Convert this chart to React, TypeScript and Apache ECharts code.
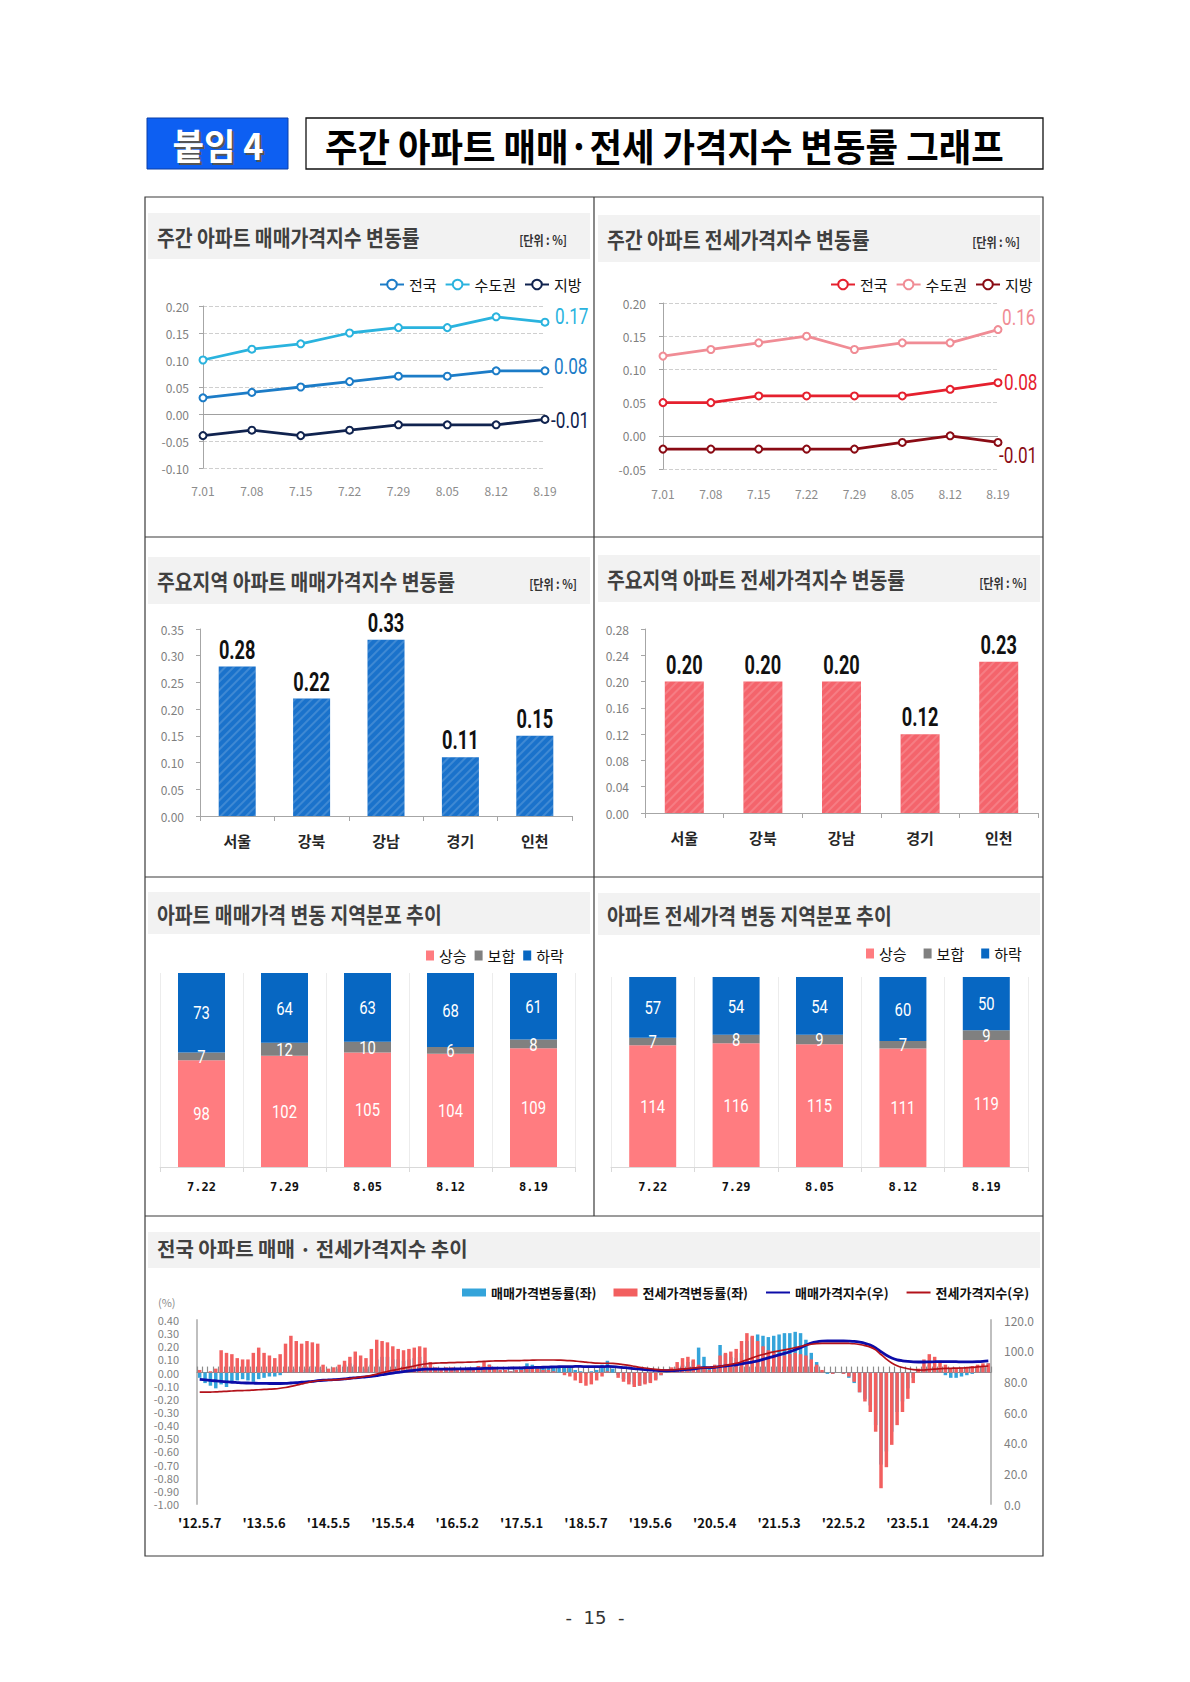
import React, { useEffect, useRef } from 'react';
import * as echarts from 'echarts';

const FONT = '"Noto Sans CJK KR", "Noto Sans", sans-serif';
const NUMF = 'Roboto, "Liberation Sans", sans-serif';

// ---- weekly change charts ----
const weeklyDates = ['7.01', '7.08', '7.15', '7.22', '7.29', '8.05', '8.12', '8.19'];
const saleNation = [0.03, 0.04, 0.05, 0.06, 0.07, 0.07, 0.08, 0.08];
const saleCapital = [0.10, 0.12, 0.13, 0.15, 0.16, 0.16, 0.18, 0.17];
const saleLocal = [-0.04, -0.03, -0.04, -0.03, -0.02, -0.02, -0.02, -0.01];
const jeonseNation = [0.05, 0.05, 0.06, 0.06, 0.06, 0.06, 0.07, 0.08];
const jeonseCapital = [0.12, 0.13, 0.14, 0.15, 0.13, 0.14, 0.14, 0.16];
const jeonseLocal = [-0.02, -0.02, -0.02, -0.02, -0.02, -0.01, 0.00, -0.01];

// ---- major regions ----
const regions = ['서울', '강북', '강남', '경기', '인천'];
const regionSale = [0.28, 0.22, 0.33, 0.11, 0.15];
const regionJeonse = [0.20, 0.20, 0.20, 0.12, 0.23];

// ---- regional distribution ----
const distDates = ['7.22', '7.29', '8.05', '8.12', '8.19'];
const saleUp = [98, 102, 105, 104, 109];
const saleFlat = [7, 12, 10, 6, 8];
const saleDown = [73, 64, 63, 68, 61];
const jeonseUp = [114, 116, 115, 111, 119];
const jeonseFlat = [7, 8, 9, 7, 9];
const jeonseDown = [57, 54, 54, 60, 50];

// ---- long-run national trend (monthly readings, 2012.5 ~ 2024.8) ----
const longTickLabels = ["'12.5.7", "'13.5.6", "'14.5.5", "'15.5.4", "'16.5.2", "'17.5.1", "'18.5.7", "'19.5.6", "'20.5.4", "'21.5.3", "'22.5.2", "'23.5.1", "'24.4.29"];
const longMonths: string[] = [];
for (let i = 0; i < 148; i++) {
  const y = 2012 + Math.floor((4 + i) / 12);
  const mo = ((4 + i) % 12) + 1;
  longMonths.push(y + '.' + mo);
}
const saleRate = [
  -0.04, -0.08, -0.10, -0.12, -0.09, -0.11, -0.08, -0.06, -0.05, -0.06, -0.07, -0.05,
  -0.04, -0.03, -0.03, -0.02, 0.01, 0.02, 0.03, 0.02, 0.03, 0.05, 0.04, 0.02,
  0.01, 0.01, 0.03, 0.06, 0.07, 0.06, 0.04, 0.03, 0.06, 0.10, 0.12, 0.12,
  0.10, 0.10, 0.09, 0.10, 0.11, 0.12, 0.09, 0.04, 0.01, 0.00, 0.01, 0.01,
  0.02, 0.02, 0.02, 0.03, 0.04, 0.05, 0.06, 0.03, 0.01, 0.01, 0.01, 0.02,
  0.03, 0.07, 0.06, 0.05, 0.04, 0.04, 0.05, 0.04, 0.05, 0.04, 0.02, 0.01,
  -0.01, 0.01, 0.02, 0.06, 0.09, 0.03, -0.02, -0.05, -0.07, -0.09, -0.10, -0.08,
  -0.07, -0.05, -0.02, 0.00, 0.02, 0.04, 0.06, 0.08, 0.09, 0.19, 0.12, 0.03,
  0.02, 0.21, 0.14, 0.12, 0.11, 0.15, 0.24, 0.27, 0.29, 0.28, 0.27, 0.28,
  0.29, 0.30, 0.30, 0.31, 0.30, 0.25, 0.15, 0.08, 0.01, -0.01, -0.01, 0.00,
  -0.01, -0.04, -0.08, -0.15, -0.20, -0.25, -0.40, -0.70, -0.60, -0.45, -0.30, -0.22,
  -0.12, -0.04, 0.00, 0.03, 0.06, 0.04, 0.01, -0.02, -0.04, -0.04, -0.03, -0.02,
  -0.01, 0.01, 0.04, 0.07,
];
const jeonseRate = [
  0.02, 0.00, 0.01, 0.03, 0.17, 0.15, 0.14, 0.11, 0.10, 0.10, 0.15, 0.19,
  0.15, 0.13, 0.11, 0.14, 0.22, 0.28, 0.24, 0.22, 0.24, 0.23, 0.22, 0.06,
  0.03, 0.04, 0.06, 0.09, 0.12, 0.16, 0.13, 0.11, 0.18, 0.25, 0.24, 0.23,
  0.20, 0.18, 0.17, 0.18, 0.19, 0.20, 0.19, 0.08, 0.04, 0.03, 0.04, 0.04,
  0.03, 0.03, 0.02, 0.03, 0.05, 0.08, 0.06, 0.03, 0.02, 0.02, 0.01, 0.02,
  0.02, 0.03, 0.03, 0.03, 0.02, 0.02, 0.01, 0.00, -0.02, -0.03, -0.06, -0.08,
  -0.10, -0.09, -0.06, -0.03, 0.01, 0.00, -0.04, -0.07, -0.09, -0.11, -0.10, -0.09,
  -0.08, -0.06, -0.02, 0.00, 0.04, 0.08, 0.11, 0.12, 0.10, 0.06, 0.03, 0.02,
  0.06, 0.13, 0.15, 0.16, 0.18, 0.24, 0.30, 0.28, 0.24, 0.20, 0.17, 0.15,
  0.14, 0.13, 0.14, 0.15, 0.14, 0.13, 0.10, 0.06, 0.02, 0.00, -0.01, 0.00,
  -0.01, -0.03, -0.07, -0.15, -0.22, -0.30, -0.45, -0.88, -0.72, -0.55, -0.40, -0.30,
  -0.20, -0.08, 0.03, 0.10, 0.14, 0.12, 0.09, 0.06, 0.03, 0.03, 0.04, 0.04,
  0.05, 0.06, 0.07, 0.07,
];
const saleIndex = [
  81.3, 81.0, 80.6, 80.3, 80.0, 79.7, 79.4, 79.2, 79.0, 78.9, 78.8, 78.7,
  78.7, 78.6, 78.6, 78.6, 78.7, 78.9, 79.1, 79.4, 79.7, 80.0, 80.4, 80.7,
  80.9, 81.1, 81.3, 81.6, 82.0, 82.3, 82.6, 82.9, 83.3, 83.8, 84.3, 84.9,
  85.4, 85.9, 86.4, 86.8, 87.2, 87.6, 87.9, 88.0, 88.0, 88.0, 88.0, 88.0,
  88.1, 88.1, 88.2, 88.2, 88.3, 88.4, 88.5, 88.6, 88.6, 88.6, 88.7, 88.7,
  88.8, 88.9, 89.0, 89.1, 89.2, 89.3, 89.4, 89.5, 89.6, 89.6, 89.7, 89.7,
  89.6, 89.6, 89.6, 89.6, 89.7, 89.6, 89.3, 89.0, 88.7, 88.3, 88.0, 87.7,
  87.4, 87.1, 87.0, 86.9, 87.0, 87.2, 87.5, 87.8, 88.1, 88.6, 88.9, 89.0,
  89.1, 89.6, 90.0, 90.4, 90.8, 91.4, 92.0, 92.6, 93.3, 94.3, 95.3, 96.3,
  97.2, 98.2, 99.3, 100.6, 102.0, 103.5, 105.0, 105.8, 106.2, 106.3, 106.3, 106.3,
  106.3, 106.2, 106.0, 105.5, 104.8, 103.7, 101.8, 99.3, 97.0, 95.2, 94.0, 93.4,
  93.0, 92.7, 92.6, 92.6, 92.7, 92.8, 92.9, 92.9, 92.8, 92.8, 92.7, 92.7,
  92.7, 92.8, 93.0, 93.3,
];
const jeonseIndex = [
  72.9, 72.9, 73.0, 73.1, 73.3, 73.5, 73.7, 73.9, 74.0, 74.1, 74.3, 74.5,
  74.7, 74.9, 75.1, 75.5, 76.0, 76.7, 77.5, 78.3, 79.1, 79.8, 80.4, 80.7,
  80.8, 80.9, 81.1, 81.4, 81.8, 82.3, 82.8, 83.3, 83.9, 84.7, 85.6, 86.4,
  87.2, 87.9, 88.6, 89.3, 90.0, 90.7, 91.3, 91.7, 91.9, 92.0, 92.1, 92.2,
  92.3, 92.4, 92.5, 92.6, 92.8, 93.0, 93.2, 93.3, 93.4, 93.4, 93.5, 93.5,
  93.6, 93.7, 93.8, 93.9, 93.9, 93.9, 93.9, 93.8, 93.7, 93.5, 93.2, 92.9,
  92.5, 92.2, 91.9, 91.8, 91.8, 91.7, 91.4, 90.9, 90.4, 89.8, 89.2, 88.7,
  88.2, 87.8, 87.5, 87.4, 87.5, 87.7, 88.0, 88.3, 88.7, 88.9, 89.0, 89.1,
  89.3, 89.8, 90.4, 91.1, 91.8, 92.8, 94.0, 95.3, 96.5, 97.5, 98.4, 99.2,
  99.9, 100.5, 101.2, 102.0, 102.8, 103.6, 104.2, 104.6, 104.8, 104.8, 104.8, 104.8,
  104.8, 104.7, 104.5, 104.0, 103.3, 102.3, 100.5, 97.5, 94.5, 92.0, 90.2, 89.0,
  88.2, 87.6, 87.3, 87.4, 87.7, 88.0, 88.2, 88.4, 88.5, 88.6, 88.7, 88.9,
  89.1, 89.4, 89.7, 90.0,
];

const fix = (d: number) => (v: number) => (Math.abs(v) < 1e-9 ? 0 : v).toFixed(d);

const txt = (x: number, y: number, text: string, size: number, o: any = {}) => ({
  type: 'text',
  x,
  y,
  scaleX: o.scaleX ?? 1,
  z: 20,
  style: {
    text,
    font: `${o.weight ?? 'bold'} ${size}px ${o.family ?? FONT}`,
    fill: o.fill ?? '#404040',
    textAlign: o.align ?? 'left',
    textVerticalAlign: 'middle',
  },
});
const rect = (x: number, y: number, w: number, h: number, style: any) => ({
  type: 'rect', z: 1, shape: { x, y, width: w, height: h }, style,
});
const hline = (x1: number, y1: number, x2: number, y2: number) => ({
  type: 'line', z: 2, shape: { x1, y1, x2, y2 }, style: { stroke: '#3a3a3a', lineWidth: 1.2 },
});

const header = (x: number, y: number, w: number, h: number, title: string, unit?: { x: number; y: number }) => {
  const els: any[] = [rect(x, y, w, h, { fill: '#f2f2f2' }), txt(x + 9, y + h / 2, title, 22, { scaleX: 0.88 })];
  if (unit) els.push(txt(unit.x, unit.y, '[단위 : %]', 13, { align: 'right', scaleX: 0.85, fill: '#333' }));
  return els;
};

const hatch = {
  symbol: 'rect', symbolSize: 1, color: 'rgba(255,255,255,0.16)',
  dashArrayX: [1, 0], dashArrayY: [2, 4], rotation: -Math.PI / 4,
};

const legendFmt = (n: string) => n.split('|').pop() as string;

// condensed text drawn at a data point through the axes (custom series)
const condensedLabel = (
  gi: number, rows: number[][], o: { color: string; size: number; weight: string; scaleX: number; dx: number; dy: number; align: string; valign: string; fmt: (v: number) => string },
) => ({
  type: 'custom', xAxisIndex: gi, yAxisIndex: gi, data: rows, silent: true, z: 12,
  renderItem: (_p: any, api: any) => {
    const c = api.coord([api.value(0), api.value(1)]);
    const shown = rows[_p.dataIndex].length > 2 ? api.value(2) : api.value(1);
    return {
      type: 'text', x: c[0] + o.dx, y: c[1] + o.dy, scaleX: o.scaleX,
      style: {
        text: o.fmt(shown), font: `${o.weight} ${o.size}px ${NUMF}`, fill: o.color,
        textAlign: o.align, textVerticalAlign: o.valign,
      },
    };
  },
});

const lastRow = (arr: number[]) => [[arr.length - 1, arr[arr.length - 1]]];
const endLabel = (gi: number, arr: number[], color: string, dx: number, dy: number) =>
  condensedLabel(gi, lastRow(arr), { color, size: 22, weight: 'normal', scaleX: 0.78, dx, dy, align: 'left', valign: 'middle', fmt: (v) => v.toFixed(2) });

const lineSeries = (name: string, data: number[], color: string, gi: number, zero = false) => {
  const s: any = {
    type: 'line', name, data, xAxisIndex: gi, yAxisIndex: gi,
    symbol: 'emptyCircle', symbolSize: 7,
    lineStyle: { width: 2.8, color },
    itemStyle: { color, borderWidth: 1.8 },
    z: 5,
  };
  if (zero) {
    s.markLine = {
      silent: true, symbol: ['none', 'none'], label: { show: false }, z: 1,
      lineStyle: { color: '#a0a0a0', type: 'solid', width: 1 }, data: [{ yAxis: 0 }],
    };
  }
  return s;
};

const barValueLabel = (gi: number, arr: number[]) =>
  condensedLabel(gi, arr.map((v, i) => [i, v]), { color: '#111', size: 26, weight: 'bold', scaleX: 0.7, dx: 0, dy: -4, align: 'center', valign: 'bottom', fmt: (v) => v.toFixed(2) });

const stackLabels = (gi: number, parts: number[][]) => {
  const rows: number[][] = [];
  parts[0].forEach((_, i) => {
    let base = 0;
    parts.forEach((p) => {
      rows.push([i, base + p[i] / 2, p[i]]);
      base += p[i];
    });
  });
  return condensedLabel(gi, rows, { color: '#fff', size: 19, weight: 'normal', scaleX: 0.78, dx: 0, dy: 0, align: 'center', valign: 'middle', fmt: (v) => String(v) });
};

const weekXAxis = (gi: number, margin: number) => ({
  gridIndex: gi, type: 'category', data: weeklyDates, boundaryGap: false,
  axisLine: { show: false }, axisTick: { show: false }, splitLine: { show: false },
  axisLabel: { color: '#8c8c8c', fontSize: 12, margin, fontFamily: FONT },
});
const pctYAxis = (gi: number, min: number, max: number, interval: number, margin: number, split: boolean) => ({
  gridIndex: gi, type: 'value', min, max, interval,
  axisLine: { show: true, lineStyle: { color: '#a6a6a6' } },
  axisTick: { show: true, length: 4, lineStyle: { color: '#a6a6a6' } },
  axisLabel: { formatter: fix(2), color: '#7f7f7f', fontSize: 12, margin, fontFamily: FONT },
  splitLine: { show: split, lineStyle: { type: 'dashed', color: '#cfcfcf' } },
});
const regionXAxis = (gi: number) => ({
  gridIndex: gi, type: 'category', data: regions,
  axisLine: { lineStyle: { color: '#a6a6a6' } },
  axisTick: { show: true, length: 5, lineStyle: { color: '#a6a6a6' } },
  axisLabel: { color: '#262626', fontSize: 15, fontWeight: 'bold', margin: 17, fontFamily: FONT },
});
const distXAxis = (gi: number) => ({
  gridIndex: gi, type: 'category', data: distDates,
  axisLine: { lineStyle: { color: '#d9d9d9' } },
  axisTick: { show: true, length: 5, lineStyle: { color: '#d9d9d9' } },
  splitLine: { show: true, interval: 0, lineStyle: { color: '#ececec' } },
  axisLabel: { color: '#111', fontSize: 12, fontWeight: 'bold', margin: 14, fontFamily: '"DejaVu Sans Mono", monospace' },
});
const stackSeries = (name: string, data: number[], color: string, gi: number) => ({
  type: 'bar', name, data, stack: 'dist' + gi, xAxisIndex: gi, yAxisIndex: gi, barWidth: 47,
  itemStyle: { color },
});

const legendText = { fontSize: 15, color: '#111', fontFamily: FONT };

const option: any = {
  animation: false,
  backgroundColor: '#ffffff',
  textStyle: { fontFamily: FONT },
  graphic: {
    elements: [
      // page title
      rect(147, 118, 141, 51, { fill: '#0d5ff2', stroke: '#0a3fa8', lineWidth: 1 }),
      txt(220, 146, '붙임 4', 36, { align: 'center', fill: '#555', scaleX: 0.95 }),
      txt(218, 144, '붙임 4', 36, { align: 'center', fill: '#ffffff', scaleX: 0.95 }),
      rect(306, 118, 737, 51, { fill: '#fff', stroke: '#111', lineWidth: 1.3 }),
      txt(325, 144, '주간 아파트 매매·전세 가격지수 변동률 그래프', 38, { fill: '#000', scaleX: 0.93 }),
      // frame
      rect(145, 197, 898, 1359, { fill: 'none', stroke: '#3a3a3a', lineWidth: 1.2 }),
      hline(594, 197, 594, 1216),
      hline(145, 537, 1043, 537),
      hline(145, 877, 1043, 877),
      hline(145, 1216, 1043, 1216),
      // headers
      ...header(148, 213, 442, 46, '주간 아파트 매매가격지수 변동률', { x: 567, y: 239 }),
      ...header(598, 215, 442, 47, '주간 아파트 전세가격지수 변동률', { x: 1020, y: 241 }),
      ...header(148, 557, 442, 47, '주요지역 아파트 매매가격지수 변동률', { x: 577, y: 583 }),
      ...header(598, 555, 442, 47, '주요지역 아파트 전세가격지수 변동률', { x: 1027, y: 582 }),
      ...header(148, 892, 442, 42, '아파트 매매가격 변동 지역분포 추이'),
      ...header(598, 893, 442, 42, '아파트 전세가격 변동 지역분포 추이'),
      rect(148, 1232, 892, 36, { fill: '#f2f2f2' }),
      txt(157, 1248, '전국 아파트 매매 · 전세가격지수 추이', 20, { fill: '#404040' }),
      txt(158, 1302, '(%)', 11, { weight: 'normal', fill: '#8c8c8c' }),
      txt(595, 1617, '-  15  -', 18, { weight: 'normal', fill: '#333', align: 'center', family: '"DejaVu Sans", sans-serif' }),
    ],
  },
  legend: [
    {
      data: ['sale|전국', 'sale|수도권', 'sale|지방'], left: 374, top: 272, itemWidth: 24, itemHeight: 12, itemGap: 8,
      textStyle: legendText, formatter: legendFmt, selectedMode: false,
    },
    {
      data: ['jeonse|전국', 'jeonse|수도권', 'jeonse|지방'], left: 825, top: 272, itemWidth: 24, itemHeight: 12, itemGap: 8,
      textStyle: legendText, formatter: legendFmt, selectedMode: false,
    },
    {
      data: ['sd|상승', 'sd|보합', 'sd|하락'], left: 421, top: 943, icon: 'rect', itemWidth: 8, itemHeight: 10, itemGap: 8,
      textStyle: legendText, formatter: legendFmt, selectedMode: false,
    },
    {
      data: ['jd|상승', 'jd|보합', 'jd|하락'], left: 861, top: 941, icon: 'rect', itemWidth: 8, itemHeight: 10, itemGap: 17,
      textStyle: legendText, formatter: legendFmt, selectedMode: false,
    },
    {
      data: [
        { name: '매매가격변동률(좌)', icon: 'rect' },
        { name: '전세가격변동률(좌)', icon: 'rect' },
        { name: '매매가격지수(우)', itemStyle: { opacity: 0 } },
        { name: '전세가격지수(우)', itemStyle: { opacity: 0 } },
      ],
      left: 457, top: 1281, itemWidth: 24, itemHeight: 8, itemGap: 17,
      textStyle: { fontSize: 13, color: '#111', fontWeight: 'bold', fontFamily: FONT }, selectedMode: false,
    },
  ],
  grid: [
    { left: 203, top: 306, width: 342, height: 162 },
    { left: 663, top: 303, width: 335, height: 166 },
    { left: 200, top: 629, width: 372, height: 187 },
    { left: 645, top: 629, width: 393, height: 184 },
    { left: 160, top: 973, width: 415, height: 194 },
    { left: 611, top: 977, width: 417, height: 190 },
    { left: 197, top: 1320, width: 794, height: 184 },
  ],
  xAxis: [
    weekXAxis(0, 16),
    weekXAxis(1, 18),
    regionXAxis(2),
    regionXAxis(3),
    distXAxis(4),
    distXAxis(5),
    {
      gridIndex: 6, type: 'category', data: longMonths,
      axisLine: { show: false, onZero: false }, axisTick: { show: false }, splitLine: { show: false },
      axisLabel: {
        interval: 0, color: '#111', fontSize: 13, fontWeight: 'bold', margin: 12, fontFamily: FONT,
        formatter: (_v: string, i: number) => (i % 12 === 0 ? longTickLabels[i / 12] ?? '' : ''),
      },
    },
    {
      gridIndex: 6, type: 'category', data: longMonths,
      axisLine: { show: true, onZero: true, onZeroAxisIndex: 6, lineStyle: { color: '#8c8c8c' } },
      axisTick: { show: true, interval: 0, length: 6, lineStyle: { color: '#8c8c8c', width: 1.2 } },
      axisLabel: { show: false }, splitLine: { show: false },
    },
  ],
  yAxis: [
    pctYAxis(0, -0.1, 0.2, 0.05, 14, true),
    pctYAxis(1, -0.05, 0.2, 0.05, 17, true),
    pctYAxis(2, 0, 0.35, 0.05, 16, false),
    pctYAxis(3, 0, 0.28, 0.04, 16, false),
    { gridIndex: 4, type: 'value', min: 0, max: 178, show: false },
    { gridIndex: 5, type: 'value', min: 0, max: 178, show: false },
    {
      gridIndex: 6, type: 'value', min: -1, max: 0.4, interval: 0.1, position: 'left',
      axisLine: { show: true, lineStyle: { color: '#bfbfbf', width: 2 } }, axisTick: { show: false },
      splitLine: { show: false },
      axisLabel: { formatter: fix(2), color: '#7f7f7f', fontSize: 11, margin: 18, fontFamily: FONT },
    },
    {
      gridIndex: 6, type: 'value', min: 0, max: 120, interval: 20, position: 'right',
      axisLine: { show: true, lineStyle: { color: '#bfbfbf', width: 2 } }, axisTick: { show: false },
      splitLine: { show: false },
      axisLabel: { formatter: fix(1), color: '#7f7f7f', fontSize: 12, margin: 13, fontFamily: FONT },
    },
  ],
  series: [
    lineSeries('sale|전국', saleNation, '#1c7cc7', 0),
    lineSeries('sale|수도권', saleCapital, '#2ab3de', 0),
    lineSeries('sale|지방', saleLocal, '#10234f', 0, true),
    endLabel(0, saleNation, '#1c7cc7', 9, -4),
    endLabel(0, saleCapital, '#2ab3de', 10, -5),
    endLabel(0, saleLocal, '#10234f', 6, 1),
    lineSeries('jeonse|전국', jeonseNation, '#e5202e', 1),
    lineSeries('jeonse|수도권', jeonseCapital, '#f08c95', 1),
    lineSeries('jeonse|지방', jeonseLocal, '#8a0b14', 1, true),
    endLabel(1, jeonseNation, '#e5202e', 6, 0),
    endLabel(1, jeonseCapital, '#f08c95', 4, -12),
    endLabel(1, jeonseLocal, '#8a0b14', 1, 13),
    {
      type: 'bar', name: 'regionSale', data: regionSale, xAxisIndex: 2, yAxisIndex: 2, barWidth: 37,
      itemStyle: { color: '#1a72cb', decal: hatch },
    },
    barValueLabel(2, regionSale),
    {
      type: 'bar', name: 'regionJeonse', data: regionJeonse, xAxisIndex: 3, yAxisIndex: 3, barWidth: 39,
      itemStyle: { color: '#f4646c', decal: hatch },
    },
    barValueLabel(3, regionJeonse),
    stackSeries('sd|상승', saleUp, '#ff7c80', 4),
    stackSeries('sd|보합', saleFlat, '#808080', 4),
    stackSeries('sd|하락', saleDown, '#0767c2', 4),
    stackLabels(4, [saleUp, saleFlat, saleDown]),
    stackSeries('jd|상승', jeonseUp, '#ff7c80', 5),
    stackSeries('jd|보합', jeonseFlat, '#808080', 5),
    stackSeries('jd|하락', jeonseDown, '#0767c2', 5),
    stackLabels(5, [jeonseUp, jeonseFlat, jeonseDown]),
    {
      type: 'bar', name: '매매가격변동률(좌)', data: saleRate, xAxisIndex: 6, yAxisIndex: 6,
      barWidth: '65%', barGap: '-100%', itemStyle: { color: '#34a4da' },
    },
    {
      type: 'bar', name: '전세가격변동률(좌)', data: jeonseRate, xAxisIndex: 6, yAxisIndex: 6,
      barWidth: '65%', barGap: '-100%', itemStyle: { color: '#f25f5f' },
    },
    {
      type: 'line', name: '매매가격지수(우)', data: saleIndex, xAxisIndex: 6, yAxisIndex: 7,
      symbol: 'none', smooth: 0.3, lineStyle: { color: '#0c0ca8', width: 2.8 }, itemStyle: { color: '#0c0ca8' }, z: 6,
    },
    {
      type: 'line', name: '전세가격지수(우)', data: jeonseIndex, xAxisIndex: 6, yAxisIndex: 7,
      symbol: 'none', smooth: 0.3, lineStyle: { color: '#b3121a', width: 1.7 }, itemStyle: { color: '#b3121a' }, z: 6,
    },
  ],
};

export default function App() {
  const ref = useRef<HTMLDivElement>(null);
  useEffect(() => {
    if (!ref.current) return;
    const chart = echarts.init(ref.current, undefined, { renderer: 'svg', width: 1190, height: 1682 });
    chart.setOption(option);
    return () => chart.dispose();
  }, []);
  return (
    <div
      ref={ref}
      style={{ position: 'absolute', left: 0, top: 0, width: 1190, height: 1682, background: '#fff' }}
    />
  );
}
